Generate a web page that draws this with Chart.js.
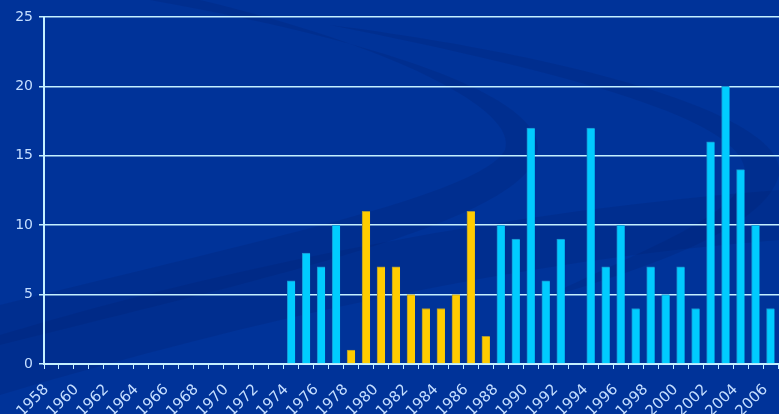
<!DOCTYPE html>
<html lang="en">
<head>
  <meta charset="UTF-8" />
  <title>Events per year 1958-2007</title>
  <script src="https://cdn.jsdelivr.net/npm/chart.js"></script>
  <style>
    * { margin: 0; padding: 0; box-sizing: border-box; }
    html, body {
      width: 779px;
      height: 414px;
      overflow: hidden;
      background: #003399;
    }
    /* plot runs past the right edge, like the original slide */
    .chart-wrap {
      position: relative;
      width: 793px;
      height: 414px;
    }
  </style>
</head>
<body>
  <div class="chart-wrap">
    <canvas id="yearBars"></canvas>
  </div>
  <script>
    // Data
    const years = [
      1958, 1959, 1960, 1961, 1962, 1963, 1964, 1965, 1966, 1967,
      1968, 1969, 1970, 1971, 1972, 1973, 1974, 1975, 1976, 1977,
      1978, 1979, 1980, 1981, 1982, 1983, 1984, 1985, 1986, 1987,
      1988, 1989, 1990, 1991, 1992, 1993, 1994, 1995, 1996, 1997,
      1998, 1999, 2000, 2001, 2002, 2003, 2004, 2005, 2006, 2007
    ];
    const counts = [
      0, 0, 0, 0, 0, 0, 0, 0, 0, 0,
      0, 0, 0, 0, 0, 0, 6, 8, 7, 10,
      1, 11, 7, 7, 5, 4, 4, 5, 11, 2,
      10, 9, 17, 6, 9, 0, 17, 7, 10, 4,
      7, 5, 7, 4, 16, 20, 14, 10, 4, null
    ];
    const yellowYears = [1978, 1979, 1980, 1981, 1982, 1983, 1984, 1985, 1986, 1987];
    const yTicks = [0, 5, 10, 15, 20, 25];

    const CYAN = '#00ccff';
    const YELLOW = '#ffcc00';
    const LINE = '#c4f0ff';
    const TEXT = '#c4deff';

    const isYellow = years.map(y => yellowYears.includes(y));

    // slide background with the faint dark swooshes
    const slideBg = {
      id: 'slideBg',
      beforeDraw(chart) {
        const c = chart.ctx;
        c.save();
        c.fillStyle = '#003399';
        c.fillRect(0, 0, chart.width, chart.height);
        c.fillStyle = 'rgba(0, 30, 110, 0.22)';
        // big curved band from the top, turning back to the lower left
        c.beginPath();
        c.moveTo(150, 0);
        c.bezierCurveTo(430, 50, 560, 110, 535, 160);
        c.bezierCurveTo(505, 225, 260, 280, 0, 345);
        c.lineTo(0, 305);
        c.bezierCurveTo(260, 240, 480, 195, 505, 150);
        c.bezierCurveTo(520, 110, 390, 45, 200, 0);
        c.closePath();
        c.fill();
        // diagonal band lower left
        c.beginPath();
        c.moveTo(0, 335);
        c.bezierCurveTo(250, 260, 520, 210, 779, 190);
        c.lineTo(779, 240);
        c.bezierCurveTo(520, 260, 250, 320, 0, 395);
        c.closePath();
        c.fill();
        // right swoosh
        c.beginPath();
        c.moveTo(330, 25);
        c.bezierCurveTo(600, 60, 790, 120, 779, 175);
        c.bezierCurveTo(765, 230, 640, 270, 540, 300);
        c.bezierCurveTo(640, 250, 745, 215, 745, 170);
        c.bezierCurveTo(740, 120, 580, 75, 330, 25);
        c.closePath();
        c.fill();
        c.restore();
      }
    };

    new Chart(document.getElementById('yearBars'), {
      type: 'bar',
      data: {
        labels: years.map(String),
        datasets: [{
          label: 'Count',
          data: counts,
          backgroundColor: isYellow.map(v => v ? YELLOW : CYAN),
          borderColor: isYellow.map(v => v ? '#a8983a' : '#1a8fcc'),
          borderWidth: { left: 1, top: 1, right: 0, bottom: 0 },
          barThickness: 8
        }]
      },
      options: {
        responsive: true,
        maintainAspectRatio: false,
        animation: false,
        layout: { padding: { top: 17, right: 0, left: 0, bottom: 0 } },
        plugins: {
          legend: { display: false },
          tooltip: { enabled: false }
        },
        scales: {
          x: {
            grid: {
              offset: true,
              drawOnChartArea: false,
              color: LINE,
              tickLength: 5,
              lineWidth: 1
            },
            border: { color: LINE, width: 2 },
            ticks: {
              autoSkip: false,
              minRotation: 45,
              maxRotation: 45,
              color: TEXT,
              labelOffset: -5,
              padding: 12,
              font: { family: 'DejaVu Sans', size: 15 },
              callback: (v, i) => (years[i] % 2 === 0 ? years[i] : '')
            },
            afterFit(scale) {
              scale.height = 50;
              scale.paddingLeft = 0;
              scale.paddingRight = 0;
            }
          },
          y: {
            min: 0,
            max: 25,
            afterBuildTicks(scale) {
              scale.ticks = yTicks.map(v => ({ value: v }));
            },
            grid: {
              color: LINE,
              lineWidth: 1.5,
              tickLength: 5
            },
            border: { color: LINE, width: 2 },
            ticks: {
              color: TEXT,
              padding: 6,
              font: { family: 'DejaVu Sans', size: 14 }
            },
            afterFit(scale) { scale.width = 44; }
          }
        }
      },
      plugins: [slideBg]
    });
  </script>
</body>
</html>
